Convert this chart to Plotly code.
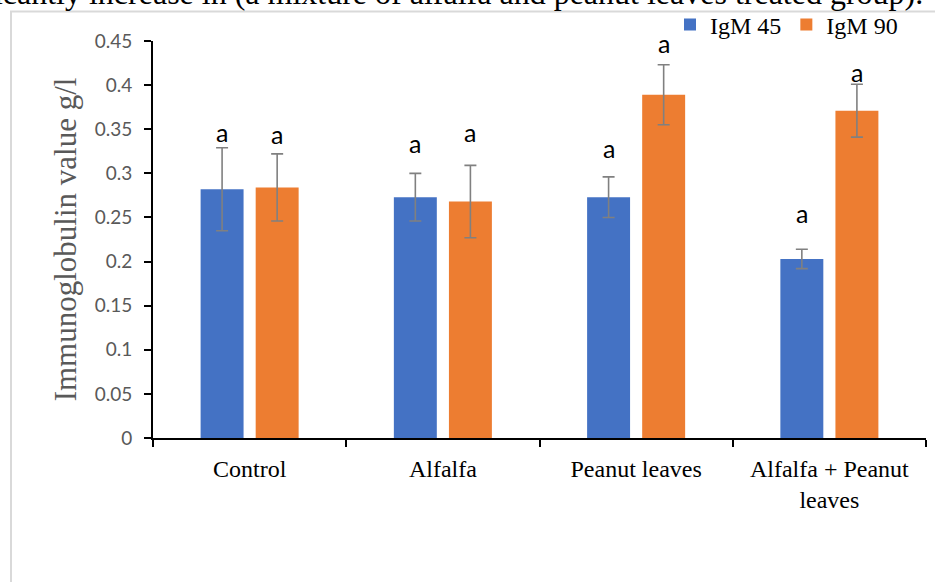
import plotly.graph_objects as go

categories = ["Control", "Alfalfa", "Peanut leaves", "Alfalfa + Peanut<br>leaves"]
igm45 = [0.282, 0.273, 0.273, 0.203]
err45 = [0.047, 0.027, 0.023, 0.011]
igm90 = [0.284, 0.268, 0.389, 0.371]
err90 = [0.038, 0.041, 0.034, 0.030]
letters45 = ["a", "a", "a", "a"]
letters90 = ["a", "a", "a", "a"]
letter_y45 = [0.343, 0.331, 0.325, 0.252]
letter_y90 = [0.341, 0.343, 0.444, 0.411]
y_ticks = [0, 0.05, 0.1, 0.15, 0.2, 0.25, 0.3, 0.35, 0.4, 0.45]
top_text = "significantly increase in (a mixture of alfalfa and peanut leaves treated group)."

BLUE = "#4472C4"
ORANGE = "#ED7D31"
W, H = 935, 582
L, R, T, B = 153, 9, 41, 144
PW, PH = W - L - R, H - T - B


def px_to_paper_x(px):
    return (px - L) / PW


def px_to_paper_y(py):
    return (H - B - py) / PH


fig = go.Figure()
fig.add_trace(go.Bar(
    name="IgM 45", x=categories, y=igm45,
    marker=dict(color=BLUE, line=dict(width=0)),
    error_y=dict(type="data", array=err45, color="#808080", thickness=1.6, width=6),
))
fig.add_trace(go.Bar(
    name="IgM 90", x=categories, y=igm90,
    marker=dict(color=ORANGE, line=dict(width=0)),
    error_y=dict(type="data", array=err90, color="#808080", thickness=1.6, width=6),
))

offset_px = 27.5
for cat, t, yv in zip(categories, letters45, letter_y45):
    fig.add_annotation(x=cat, y=yv, text=t, showarrow=False, xshift=-offset_px, yshift=3,
                       yanchor="middle", font=dict(family="Lato", size=25, color="black"))
for cat, t, yv in zip(categories, letters90, letter_y90):
    fig.add_annotation(x=cat, y=yv, text=t, showarrow=False, xshift=offset_px, yshift=3,
                       yanchor="middle", font=dict(family="Lato", size=25, color="black"))

# cropped document text at the top (only its lower part is inside the picture)
fig.add_annotation(xref="paper", yref="paper", x=px_to_paper_x(925), y=px_to_paper_y(-7),
                   text=top_text, showarrow=False, xanchor="right", yanchor="middle",
                   font=dict(family="Liberation Serif", size=32, color="black"))

# chart-area border (light grey)
fig.add_shape(type="line", xref="paper", yref="paper",
              x0=px_to_paper_x(10), x1=px_to_paper_x(940), y0=px_to_paper_y(11.5), y1=px_to_paper_y(11.5),
              line=dict(color="#D9D9D9", width=2))
fig.add_shape(type="line", xref="paper", yref="paper",
              x0=px_to_paper_x(11), x1=px_to_paper_x(11), y0=px_to_paper_y(11), y1=px_to_paper_y(590),
              line=dict(color="#D9D9D9", width=2))

fig.update_layout(
    width=W, height=H,
    margin=dict(l=L, r=R, t=T, b=B, pad=0, autoexpand=False),
    paper_bgcolor="white", plot_bgcolor="white",
    barmode="group", bargap=0.43, bargroupgap=0.22,
    showlegend=True,
    legend=dict(orientation="h", x=px_to_paper_x(903), xanchor="right",
                y=px_to_paper_y(25), yanchor="middle",
                font=dict(family="Liberation Serif", size=24, color="black"),
                bgcolor="rgba(0,0,0,0)", itemwidth=30, tracegroupgap=0),
    xaxis=dict(
        range=[-0.5, 3.5], showline=True, linecolor="black", linewidth=2,
        ticks="outside", tickson="boundaries", ticklen=7, tickwidth=2, tickcolor="black",
        ticklabelstandoff=8,
        tickfont=dict(family="Liberation Serif", size=24, color="black"),
        showgrid=False, zeroline=False, fixedrange=True, automargin=False,
    ),
    yaxis=dict(
        range=[0, 0.45], tickvals=y_ticks, showline=True, linecolor="black", linewidth=2,
        ticks="outside", ticklen=7, tickwidth=2, tickcolor="black",
        ticklabelstandoff=8,
        tickfont=dict(family="Lato", size=19, color="#595959"),
        showgrid=False, zeroline=False, fixedrange=True, automargin=False,
        title=dict(text="Immunoglobulin value g/l", standoff=9,
                   font=dict(family="Liberation Serif", size=31, color="#595959")),
    ),
)

fig.write_html("out.html", config={"displayModeBar": False},
               post_script="document.body.style.margin='0px';")
